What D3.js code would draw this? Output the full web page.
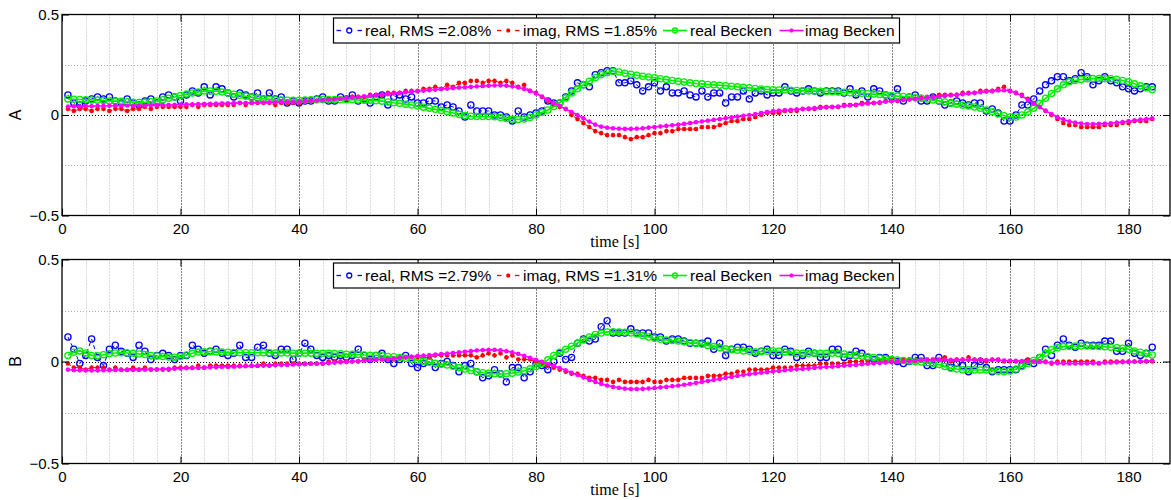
<!DOCTYPE html>
<html>
<head>
<meta charset="utf-8">
<script src="https://cdn.jsdelivr.net/npm/d3@7"></script>
<style>
  body { margin: 0; background: #fff; }
  svg { display: block; }
</style>
</head>
<body>
<svg id="chart" width="1171" height="500"></svg>
<script>
// Samples are taken once per second starting at t = 1 s
const timeStart = 1;
const timeStep = 1;

const xTicks = [0, 20, 40, 60, 80, 100, 120, 140, 160, 180];
const yTicks = [-0.5, 0, 0.5];
const yMinorTicks = [-0.25, 0.25];
const xMinorStep = 4;

const legendA = ["real, RMS =2.08%", "imag, RMS =1.85%", "real Becken", "imag Becken"];
const legendB = ["real, RMS =2.79%", "imag, RMS =1.31%", "real Becken", "imag Becken"];

// ---- Panel A ----
const realA = [
  .10,.06,.05,.07,.08,.09,.08,.09,.07,.06,
  .08,.06,.05,.07,.08,.06,.09,.10,.09,.07,
  .10,.12,.11,.14,.10,.14,.13,.11,.09,.11,
  .10,.09,.11,.08,.11,.08,.09,.06,.07,.06,
  .07,.07,.08,.09,.07,.07,.09,.08,.10,.07,
  .08,.06,.09,.10,.05,.09,.10,.08,.09,.06,
  .06,.07,.07,.04,.05,.04,.02,-.01,.05,.02,
  .02,.02,.00,.00,-.01,-.03,.02,-.01,.00,.01,
  .02,.07,.06,.06,.09,.12,.16,.15,.14,.20,
  .21,.22,.22,.16,.16,.17,.15,.12,.14,.16,
  .12,.14,.11,.11,.12,.10,.09,.12,.09,.11,
  .11,.06,.09,.09,.12,.08,.11,.12,.10,.11,
  .11,.14,.12,.11,.12,.13,.12,.11,.12,.12,
  .12,.11,.13,.10,.12,.09,.13,.12,.10,.09,
  .13,.07,.09,.10,.07,.07,.09,.07,.05,.06,
  .07,.06,.05,.06,.06,.02,.03,.01,-.03,-.03,
  .00,.05,.05,.08,.12,.15,.17,.19,.19,.17,
  .18,.21,.19,.15,.17,.19,.17,.16,.14,.13,
  .12,.13,.14,.14
];
const imagA = [
  .03,.02,.03,.03,.02,.03,.03,.02,.03,.03,
  .02,.03,.03,.04,.03,.04,.04,.04,.04,.04,
  .04,.05,.04,.05,.05,.05,.05,.05,.05,.06,
  .05,.06,.06,.06,.06,.05,.06,.06,.06,.06,
  .07,.07,.07,.07,.08,.08,.08,.08,.09,.09,
  .09,.10,.10,.10,.11,.11,.11,.12,.12,.12,
  .13,.13,.14,.13,.15,.14,.16,.16,.17,.17,
  .16,.17,.17,.16,.17,.16,.14,.15,.12,.11,
  .09,.07,.05,.04,.03,.00,-.02,-.04,-.06,-.08,
  -.09,-.10,-.10,-.10,-.11,-.12,-.11,-.11,-.10,-.09,
  -.09,-.08,-.08,-.07,-.07,-.07,-.07,-.06,-.06,-.06,
  -.05,-.04,-.03,-.03,-.02,-.02,-.01,.00,.01,.01,
  .01,.02,.02,.02,.03,.03,.03,.04,.04,.04,
  .04,.05,.05,.05,.06,.06,.06,.06,.07,.07,
  .07,.08,.08,.08,.09,.09,.09,.10,.10,.10,
  .10,.11,.11,.11,.12,.12,.12,.13,.14,.12,
  .11,.10,.08,.06,.04,.02,.00,-.02,-.04,-.05,
  -.05,-.06,-.06,-.06,-.06,-.05,-.05,-.05,-.04,-.04,
  -.03,-.03,-.03,-.02
];
const realBeckenA = [
  .080,.078,.077,.076,.075,.074,.072,.070,.069,.068,
  .066,.064,.062,.063,.066,.070,.076,.083,.090,.097,
  .104,.110,.115,.119,.120,.118,.114,.109,.103,.098,
  .093,.088,.084,.080,.078,.076,.075,.074,.074,.074,
  .075,.076,.076,.077,.077,.077,.076,.076,.076,.075,
  .074,.073,.071,.069,.065,.061,.058,.054,.050,.045,
  .039,.034,.028,.022,.016,.010,.003,-.003,-.006,-.008,
  -.008,-.008,-.009,-.012,-.017,-.021,-.022,-.020,-.012,.000,
  .012,.025,.042,.060,.085,.110,.130,.150,.168,.185,
  .200,.210,.218,.214,.208,.203,.198,.193,.189,.185,
  .180,.176,.172,.168,.164,.160,.157,.155,.152,.150,
  .148,.146,.143,.140,.138,.135,.132,.129,.127,.126,
  .125,.124,.123,.122,.121,.120,.119,.118,.117,.116,
  .115,.113,.111,.109,.108,.106,.104,.102,.099,.097,
  .094,.092,.089,.086,.083,.079,.075,.071,.065,.058,
  .054,.049,.045,.040,.033,.025,.016,.005,-.004,-.010,
  -.010,.000,.015,.033,.058,.083,.107,.130,.150,.165,
  .172,.177,.180,.181,.181,.180,.180,.178,.172,.165,
  .155,.145,.135,.127
];
const imagBeckenA = [
  .042,.043,.043,.044,.044,.045,.045,.046,.046,.046,
  .047,.047,.048,.048,.049,.049,.050,.050,.051,.052,
  .053,.053,.054,.055,.056,.057,.058,.058,.059,.060,
  .060,.061,.062,.062,.063,.063,.064,.065,.065,.066,
  .068,.070,.072,.074,.076,.078,.081,.084,.087,.090,
  .093,.096,.099,.102,.104,.107,.110,.113,.115,.118,
  .121,.124,.126,.129,.131,.134,.136,.138,.140,.142,
  .144,.146,.147,.147,.146,.142,.137,.130,.120,.107,
  .092,.075,.060,.045,.030,.015,.000,-.017,-.033,-.048,
  -.058,-.063,-.066,-.068,-.069,-.069,-.068,-.066,-.063,-.060,
  -.057,-.054,-.051,-.048,-.044,-.040,-.036,-.032,-.028,-.024,
  -.020,-.016,-.012,-.008,-.004,.000,.004,.010,.015,.019,
  .022,.024,.026,.028,.030,.032,.034,.036,.038,.040,
  .042,.045,.048,.051,.054,.057,.060,.063,.066,.069,
  .072,.075,.077,.080,.083,.086,.089,.092,.095,.098,
  .101,.104,.107,.110,.113,.116,.119,.122,.123,.120,
  .110,.095,.075,.058,.040,.022,.005,-.010,-.022,-.032,
  -.038,-.042,-.045,-.045,-.044,-.043,-.041,-.038,-.035,-.031,
  -.027,-.023,-.020,-.017
];

// ---- Panel B ----
const realB = [
  .12,.06,-.01,.03,.11,.02,-.02,.06,.08,.05,
  .04,.02,.08,.05,.01,.03,.04,.03,.01,.03,
  .03,.08,.06,.04,.05,.06,.04,.03,.04,.08,
  .02,.02,.07,.08,.04,.03,.06,.06,.01,.04,
  .09,.06,.03,.02,.03,.02,.03,.02,.03,.06,
  .03,.01,.03,.04,.01,-.01,.01,.03,-.01,-.03,
  -.01,.00,-.03,-.01,.00,-.02,-.05,-.02,-.01,-.05,
  -.08,-.07,-.04,-.06,-.10,-.03,-.03,-.08,-.05,-.01,
  -.02,-.04,.00,.04,.01,.02,.09,.11,.10,.11,
  .17,.20,.14,.14,.14,.16,.14,.14,.14,.12,
  .12,.10,.11,.11,.10,.09,.09,.09,.10,.06,
  .09,.03,.06,.07,.07,.06,.04,.05,.06,.03,
  .03,.06,.05,.02,.03,.05,.04,.02,.02,.06,
  .06,.02,.03,.05,.04,.02,.01,.02,.02,.01,
  .00,-.01,.00,.02,.02,-.02,-.02,.02,-.01,-.03,
  -.01,-.02,-.05,-.02,.00,-.03,-.05,-.04,-.04,-.04,
  -.04,-.02,.00,-.01,.02,.06,.03,.08,.11,.08,
  .07,.09,.08,.08,.08,.10,.10,.05,.05,.09,
  .04,.03,.04,.07
];
const imagB = [
  -.01,-.03,-.03,-.04,-.03,-.03,-.03,-.04,-.03,-.04,
  -.04,-.03,-.04,-.03,-.04,-.04,-.04,-.04,-.03,-.03,
  -.03,-.03,-.02,-.03,-.02,-.02,-.02,-.02,-.02,-.02,
  -.02,-.02,-.02,-.01,-.02,-.01,-.01,-.01,-.01,-.01,
  -.01,-.01,-.01,-.01,.00,.00,.00,.00,.00,.00,
  .01,.01,.01,.01,.01,.01,.02,.02,.02,.02,
  .02,.02,.03,.03,.03,.03,.03,.03,.03,.02,
  .03,.04,.03,.04,.02,.03,.01,.01,.01,.00,
  -.01,-.02,-.03,-.04,-.05,-.06,-.06,-.07,-.08,-.08,
  -.09,-.09,-.10,-.09,-.10,-.10,-.10,-.10,-.09,-.10,
  -.10,-.09,-.09,-.09,-.08,-.08,-.08,-.08,-.07,-.07,
  -.07,-.06,-.06,-.05,-.05,-.04,-.04,-.04,-.04,-.03,
  -.03,-.03,-.03,-.02,-.02,-.02,-.02,-.01,-.01,-.01,
  -.01,-.01,.00,.00,.00,.00,.00,.00,.00,.01,
  .00,.01,.01,.00,.01,.01,.01,.01,.02,.00,
  .01,.01,.02,.01,.01,.00,.01,.01,.00,.00,
  .00,.00,.01,.00,.00,.00,-.01,.00,.00,.00,
  .00,.00,.00,.00,-.01,.00,.00,.00,.00,.00,
  .00,.00,.00,.00
];
const realBeckenB = [
  .030,.045,.052,.042,.030,.028,.033,.038,.042,.043,
  .042,.040,.037,.034,.030,.027,.024,.022,.021,.024,
  .032,.040,.046,.048,.048,.047,.046,.045,.044,.043,
  .043,.043,.043,.043,.043,.042,.042,.042,.041,.041,
  .041,.041,.040,.040,.040,.039,.038,.036,.035,.034,
  .032,.031,.030,.028,.025,.023,.020,.016,.011,.006,
  .001,-.004,-.009,-.013,-.017,-.023,-.030,-.037,-.044,-.050,
  -.055,-.058,-.060,-.061,-.060,-.057,-.052,-.045,-.036,-.025,
  -.010,.008,.030,.045,.060,.075,.090,.105,.120,.132,
  .140,.145,.146,.145,.143,.140,.135,.128,.120,.114,
  .109,.106,.103,.100,.097,.093,.089,.084,.079,.073,
  .068,.062,.058,.055,.052,.050,.048,.048,.050,.052,
  .050,.047,.044,.042,.040,.040,.040,.040,.040,.040,
  .039,.037,.034,.030,.026,.023,.020,.016,.013,.010,
  .007,.005,.003,.000,-.003,-.006,-.009,-.015,-.024,-.033,
  -.037,-.040,-.041,-.042,-.042,-.042,-.045,-.048,-.050,-.046,
  -.037,-.025,-.010,.005,.020,.040,.058,.068,.073,.075,
  .076,.076,.076,.075,.074,.072,.070,.068,.065,.060,
  .052,.045,.038,.032
];
const imagBeckenB = [
  -.040,-.042,-.043,-.044,-.044,-.044,-.043,-.043,-.042,-.042,
  -.041,-.041,-.040,-.040,-.039,-.038,-.037,-.036,-.035,-.034,
  -.033,-.032,-.031,-.030,-.029,-.028,-.027,-.026,-.025,-.024,
  -.023,-.022,-.021,-.020,-.019,-.018,-.017,-.016,-.015,-.014,
  -.013,-.011,-.010,-.009,-.008,-.006,-.004,-.002,.000,.002,
  .004,.006,.008,.010,.012,.015,.018,.021,.024,.027,
  .029,.031,.034,.036,.039,.042,.045,.048,.051,.054,
  .056,.057,.057,.055,.051,.045,.037,.028,.018,.008,
  -.002,-.012,-.022,-.032,-.043,-.055,-.066,-.078,-.090,-.100,
  -.110,-.118,-.124,-.129,-.133,-.135,-.135,-.134,-.132,-.130,
  -.127,-.124,-.121,-.118,-.114,-.110,-.105,-.100,-.095,-.090,
  -.085,-.080,-.075,-.070,-.066,-.062,-.058,-.055,-.052,-.049,
  -.046,-.043,-.040,-.038,-.036,-.034,-.031,-.029,-.027,-.025,
  -.023,-.020,-.018,-.016,-.013,-.011,-.009,-.007,-.005,-.003,
  -.001,.001,.002,.004,.005,.006,.007,.007,.008,.008,
  .008,.008,.008,.008,.008,.007,.007,.006,.005,.004,
  .003,.002,.001,.000,-.002,-.004,-.006,-.008,-.009,-.010,
  -.010,-.010,-.009,-.008,-.007,-.006,-.005,-.004,-.003,-.002,
  -.001,.000,.002,.004
];

// ---------------------------------------------------------------
const svg = d3.select("#chart");
const W = 1171;
const SANS = "'Liberation Sans', Arial, Helvetica, sans-serif";
const SERIF = "'Liberation Serif', 'Times New Roman', serif";

const plotLeft = 62, plotRight = 1170;
const x = d3.scaleLinear().domain([0, 187]).range([plotLeft, plotRight]);

const panels = [
  { name: "A", top: 14.5, bottom: 215.5, labels: legendA,
    series: [realA, imagA, realBeckenA, imagBeckenA] },
  { name: "B", top: 259.5, bottom: 463.5, labels: legendB,
    series: [realB, imagB, realBeckenB, imagBeckenB] }
];

const styles = [
  { color: "#0000ff", marker: "circle", dash: "4,3", width: 1 },
  { color: "#ff0000", marker: "star",   dash: "4,3", width: 1 },
  { color: "#00ee00", marker: "circle", dash: null,  width: 1.6 },
  { color: "#ff00ff", marker: "star",   dash: null,  width: 1.6 }
];

const starPath = s => {
  const d = s * 0.72;
  return `M${-s},0H${s}M0,${-s}V${s}M${-d},${-d}L${d},${d}M${-d},${d}L${d},${-d}`;
};

function drawMarker(g, kind, color, cx, cy, small) {
  if (kind === "circle") {
    g.append("circle").attr("cx", cx).attr("cy", cy).attr("r", small ? 2.5 : 3.1)
      .attr("fill", "none").attr("stroke", color).attr("stroke-width", 1.3);
  } else {
    g.append("path").attr("transform", `translate(${cx},${cy})`)
      .attr("d", starPath(small ? 2 : 2.3)).attr("stroke", color).attr("stroke-width", 1.3)
      .attr("fill", "none");
  }
}

const legendX = 333.5, legendW = 566, legendH = 25;
const legendItems = [
  { x0: 335.5, x1: 363, tx: 365 },
  { x0: 496,   x1: 520.5, tx: 523 },
  { x0: 663,   x1: 687, tx: 690 },
  { x0: 779.5, x1: 803.5, tx: 805 }
];

panels.forEach(p => {
  const y = d3.scaleLinear().domain([-0.5, 0.5]).range([p.bottom, p.top]);
  const g = svg.append("g");

  // minor grid
  const xMinor = d3.range(xMinorStep, 187, xMinorStep).filter(v => v % 20 !== 0);
  g.append("g").selectAll("line").data(xMinor).join("line")
    .attr("x1", d => Math.round(x(d)) + 0.5).attr("x2", d => Math.round(x(d)) + 0.5)
    .attr("y1", p.top).attr("y2", p.bottom)
    .attr("stroke", "#b4b4b4").attr("stroke-width", 1).attr("stroke-dasharray", "1,2");
  g.append("g").selectAll("line").data(yMinorTicks).join("line")
    .attr("x1", plotLeft).attr("x2", plotRight)
    .attr("y1", d => Math.round(y(d)) + 0.5).attr("y2", d => Math.round(y(d)) + 0.5)
    .attr("stroke", "#b4b4b4").attr("stroke-width", 1).attr("stroke-dasharray", "1,2");

  // major grid
  g.append("g").selectAll("line").data(xTicks.filter(v => v > 0)).join("line")
    .attr("x1", d => Math.round(x(d)) + 0.5).attr("x2", d => Math.round(x(d)) + 0.5)
    .attr("y1", p.top).attr("y2", p.bottom)
    .attr("stroke", "#000").attr("stroke-width", 1).attr("stroke-dasharray", "1,2");
  g.append("g").selectAll("line").data(yTicks.filter(v => v === 0)).join("line")
    .attr("x1", plotLeft).attr("x2", W)
    .attr("y1", d => Math.round(y(d)) + 0.5).attr("y2", d => Math.round(y(d)) + 0.5)
    .attr("stroke", "#000").attr("stroke-width", 1).attr("stroke-dasharray", "1,2");

  // series
  p.series.forEach((vals, si) => {
    const st = styles[si];
    const pts = vals.map((v, i) => [timeStart + i * timeStep, v]);
    const line = d3.line().x(d => x(d[0])).y(d => y(d[1]));
    const sg = g.append("g");
    sg.append("path").datum(pts).attr("d", line)
      .attr("fill", "none").attr("stroke", st.color).attr("stroke-width", st.width)
      .attr("stroke-dasharray", st.dash);
    pts.forEach(d => drawMarker(sg, st.marker, st.color, x(d[0]), y(d[1]), false));
  });

  // axes: ticks point inward on all four sides
  const fmt = d3.format("~g");
  g.append("g").attr("transform", `translate(0,${p.bottom})`)
    .call(d3.axisBottom(x).tickValues(xTicks).tickSizeInner(-7).tickSizeOuter(0).tickPadding(8).tickFormat(fmt));
  g.append("g").attr("transform", `translate(0,${p.top})`)
    .call(d3.axisTop(x).tickValues(xTicks).tickSizeInner(-7).tickSizeOuter(0).tickFormat(""));
  g.append("g").attr("transform", `translate(${plotLeft},0)`)
    .call(d3.axisLeft(y).tickValues(yTicks).tickSizeInner(-7).tickSizeOuter(0).tickPadding(3).tickFormat(fmt));
  g.append("g").attr("transform", `translate(${plotRight},0)`)
    .call(d3.axisRight(y).tickValues(yTicks).tickSizeInner(-7).tickSizeOuter(0).tickFormat(""));
  g.selectAll(".domain").remove();
  g.selectAll(".tick line").attr("stroke", "#000").attr("stroke-width", 1);
  g.selectAll(".tick text").attr("fill", "#000")
    .style("font-size", "15px").style("font-family", SANS);

  // frame
  g.append("rect").attr("x", plotLeft).attr("y", p.top)
    .attr("width", plotRight - plotLeft).attr("height", p.bottom - p.top)
    .attr("fill", "none").attr("stroke", "#000").attr("stroke-width", 1.3);

  // axis titles
  g.append("text").attr("transform", `translate(21,${(p.top + p.bottom) / 2}) rotate(-90)`)
    .attr("text-anchor", "middle").style("font-size", "16px").style("font-family", SANS).text(p.name);
  g.append("text").attr("x", 615).attr("y", p.bottom + 31)
    .attr("text-anchor", "middle").style("font-size", "16px").style("font-family", SERIF)
    .text("time [s]");

  // legend
  const ly = p.top + 3.5;
  const lg = g.append("g");
  lg.append("rect").attr("x", legendX).attr("y", ly).attr("width", legendW).attr("height", legendH)
    .attr("fill", "#fff").attr("stroke", "#000").attr("stroke-width", 1.2);
  const cy = ly + legendH / 2;
  legendItems.forEach((it, i) => {
    const st = styles[i];
    const mid = (it.x0 + it.x1) / 2;
    if (st.dash) {
      // short dash on each side of the marker
      lg.append("line").attr("x1", it.x0 + 1).attr("x2", it.x0 + 5.5).attr("y1", cy).attr("y2", cy)
        .attr("stroke", st.color).attr("stroke-width", 1.3);
      lg.append("line").attr("x1", it.x1 - 5.5).attr("x2", it.x1 - 1).attr("y1", cy).attr("y2", cy)
        .attr("stroke", st.color).attr("stroke-width", 1.3);
    } else {
      lg.append("line").attr("x1", it.x0).attr("x2", it.x1).attr("y1", cy).attr("y2", cy)
        .attr("stroke", st.color).attr("stroke-width", st.width);
    }
    drawMarker(lg, st.marker, st.color, mid, cy, true);
    lg.append("text").attr("x", it.tx).attr("y", cy + 5.5)
      .style("font-size", "15.5px").style("font-family", SANS)
      .attr("fill", "#000").text(p.labels[i]);
  });
});
</script>
</body>
</html>
